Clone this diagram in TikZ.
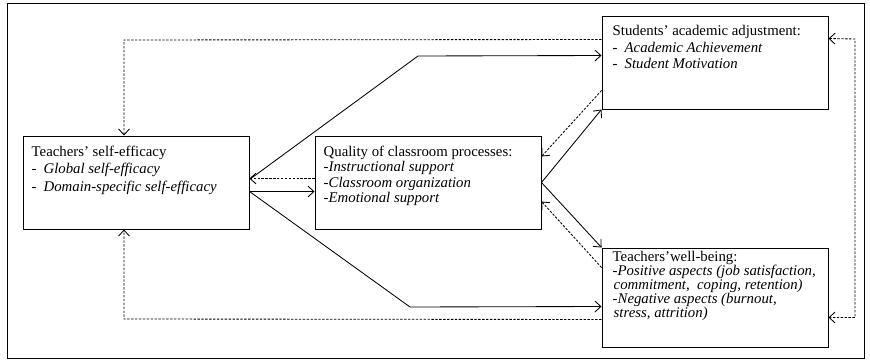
\documentclass[tikz,border=0pt]{standalone}
\usepackage{fontspec}
\setmainfont{Liberation Serif}[ItalicFont={Liberation Serif Italic}]
\usepackage{tikz}
\usetikzlibrary{arrows.meta, positioning}

\begin{document}
\begin{tikzpicture}[x=1pt, y=-1pt,
  box/.style={draw, line width=1pt, minimum width=226pt, inner sep=0pt},
  txt/.style={anchor=north west, align=left, inner sep=0pt, font=\fontsize{14.8}{17.5}\selectfont},
  con/.style={line width=0.85pt, -{Straight Barb[length=6pt, width=11pt]}},
  fb/.style={con, dash pattern=on 2.4pt off 1.5pt}]
\useasboundingbox (0,0) rectangle (870,364);
\draw[line width=1pt] (7,3) rectangle (864,358);

% Boxes
\node[box, minimum height=93pt] (tse) at (136,182.5) {};
\node[box, minimum height=93pt] (qcp) at (428,182.5) {};
\node[box, minimum height=93pt] (saa) at (715,62.5) {};
\node[box, minimum height=99pt] (twb) at (715,297.5) {};

% Texts
\node[txt] (tse-t) at ([shift={(9,10)}]tse.north west)
  {Teachers’ self-efficacy\\
   -\hspace{7pt}\textit{Global self-efficacy}\\
   -\hspace{7pt}\textit{Domain-specific self-efficacy}};
\node[txt, font=\fontsize{14.8}{15.5}\selectfont] (qcp-t) at ([shift={(9,10)}]qcp.north west)
  {Quality of classroom processes:\\
   -\textit{Instructional support}\\
   -\textit{Classroom organization}\\
   -\textit{Emotional support}};
\node[txt, font=\fontsize{14.8}{16.5}\selectfont] (saa-t) at ([shift={(11,10)}]saa.north west)
  {Students’ academic adjustment:\\
   -\hspace{7pt}\textit{Academic Achievement}\\
   -\hspace{7pt}\textit{Student Motivation}};
\node[txt, font=\fontsize{14.8}{14}\selectfont] (twb-t) at ([shift={(11,4)}]twb.north west)
  {Teachers’well-being:\\
   -\textit{Positive aspects (job satisfaction,}\\
   \hspace{1pt}\textit{commitment,\ \ coping, retention)}\\
   -\textit{Negative aspects (burnout,}\\
   \hspace{1pt}\textit{stress, attrition)}};

% Bend points
\coordinate (bendtop) at (418,56);
\coordinate (bendbot) at (410,307);
\coordinate (fbtop) at (124,40);
\coordinate (fbbot) at (124,319);
\coordinate (fbright) at (855,39);

% Solid paths
\draw[con] ([yshift=-44pt]tse.north east) -- (bendtop) -- ([yshift=-40pt]saa.north west);
\draw[con] ([yshift=-56pt]tse.north east) -- ([yshift=-56pt]qcp.north west);
\draw[con] ([yshift=-56pt]tse.north east) -- (bendbot) -- ([yshift=-59pt]twb.north west);
\draw[con] (qcp.east) -- (saa.south west);
\draw[con] (qcp.east) -- (twb.north west);

% Feedback paths
\draw[fb] ([yshift=-43pt]qcp.north west) -- ([yshift=-43pt]tse.north east);
\draw[fb] ([yshift=19pt]saa.south west) -- ([yshift=-21pt]qcp.north east);
\draw[fb] ([yshift=-20pt]twb.north west) -- ([yshift=28pt]qcp.south east);
\draw[fb] ([yshift=-24pt]saa.north west) -- (fbtop) -- (fbtop |- tse.north);
\draw[fb] ([yshift=28pt]twb.south west) -- (fbbot) -- (fbbot |- tse.south);
\draw[fb, {Straight Barb[length=6pt, width=11pt]}-{Straight Barb[length=6pt, width=11pt]}]
  ([yshift=-23pt]saa.north east) -- (fbright) |- ([yshift=-70pt]twb.north east);
\end{tikzpicture}
\end{document}
